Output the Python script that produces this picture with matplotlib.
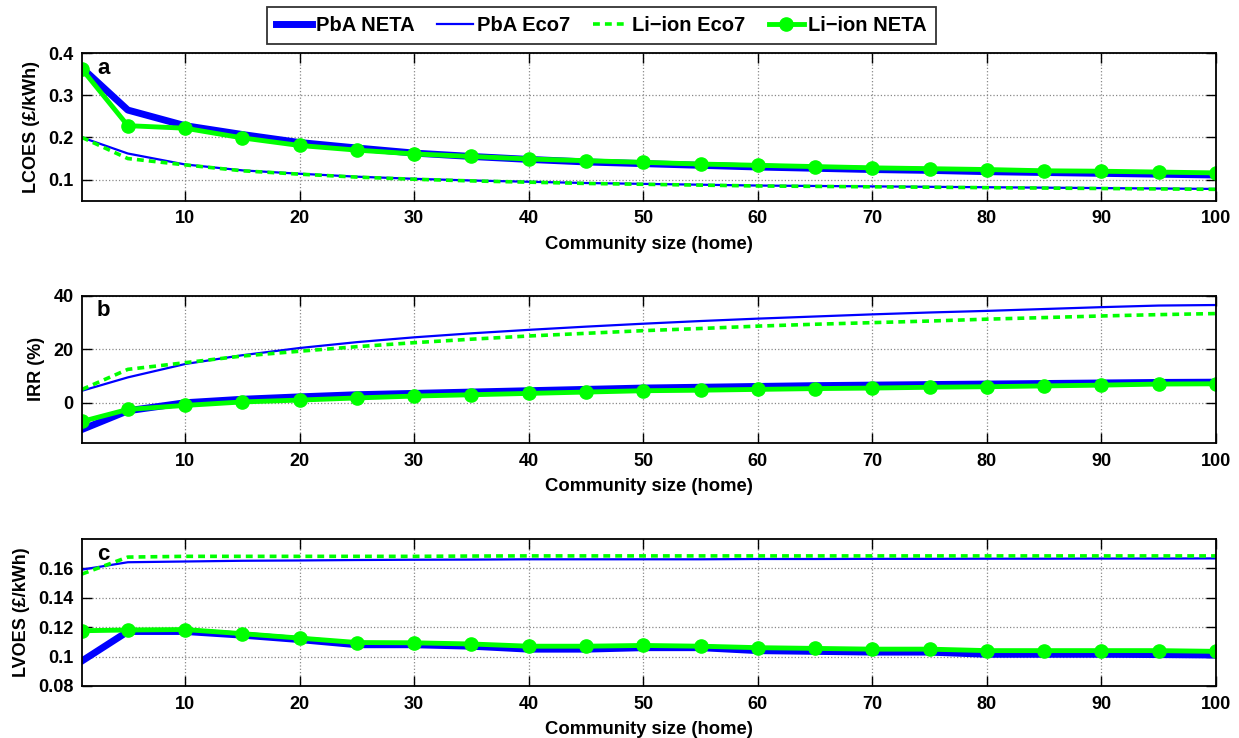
import numpy as np
import matplotlib
matplotlib.use('Agg')
import matplotlib.pyplot as plt
from matplotlib.ticker import FuncFormatter

plt.rcParams['font.family'] = ['Liberation Sans', 'DejaVu Sans']
plt.rcParams['font.weight'] = 'bold'

# community size (homes)
size = [1, 5, 10, 15, 20, 25, 30, 35, 40, 45, 50, 55, 60, 65, 70, 75, 80, 85, 90, 95, 100]

# (a) LCOES (GBP/kWh)
lcoes_pba_neta = [0.365, 0.265, 0.228, 0.207, 0.188, 0.175, 0.163, 0.155, 0.148, 0.142, 0.138,
                  0.134, 0.130, 0.127, 0.124, 0.122, 0.119, 0.117, 0.115, 0.113, 0.111]
lcoes_pba_eco7 = [0.200, 0.162, 0.136, 0.122, 0.114, 0.107, 0.102, 0.098, 0.095, 0.092, 0.090,
                  0.088, 0.086, 0.085, 0.084, 0.083, 0.082, 0.081, 0.080, 0.079, 0.078]
lcoes_li_eco7 = [0.200, 0.150, 0.135, 0.121, 0.113, 0.106, 0.101, 0.097, 0.094, 0.091, 0.089,
                 0.087, 0.085, 0.084, 0.083, 0.082, 0.081, 0.080, 0.079, 0.078, 0.077]
lcoes_li_neta = [0.362, 0.228, 0.222, 0.199, 0.181, 0.170, 0.161, 0.155, 0.149, 0.145, 0.141,
                 0.137, 0.134, 0.131, 0.128, 0.126, 0.124, 0.121, 0.120, 0.118, 0.116]

# (b) IRR (%)
irr_pba_neta = [-10.0, -3.0, 0.0, 1.3, 2.2, 3.0, 3.5, 4.0, 4.5, 5.0, 5.5,
                5.8, 6.1, 6.4, 6.6, 6.8, 7.0, 7.2, 7.4, 7.6, 7.7]
irr_pba_eco7 = [4.5, 9.5, 14.5, 17.8, 20.5, 22.7, 24.5, 26.0, 27.3, 28.5, 29.6,
                30.6, 31.5, 32.3, 33.1, 33.8, 34.4, 35.1, 35.8, 36.4, 36.6]
irr_li_eco7 = [5.0, 12.5, 15.0, 17.5, 19.3, 21.0, 22.5, 23.8, 25.0, 26.0, 27.0,
               27.8, 28.7, 29.4, 30.0, 30.6, 31.3, 31.9, 32.5, 33.0, 33.4]
irr_li_neta = [-7.0, -2.5, -1.0, 0.3, 1.0, 1.8, 2.5, 3.0, 3.5, 4.0, 4.5,
               4.7, 5.0, 5.3, 5.5, 5.8, 6.0, 6.3, 6.6, 7.0, 7.1]

# (c) LVOES (GBP/kWh)
lvoes_pba_neta = [0.097, 0.117, 0.117, 0.1145, 0.1115, 0.108, 0.108, 0.107, 0.105, 0.105, 0.106,
                  0.106, 0.104, 0.1035, 0.103, 0.103, 0.1015, 0.1015, 0.1015, 0.1013, 0.101]
lvoes_pba_eco7 = [0.159, 0.164, 0.1645, 0.165, 0.1652, 0.1655, 0.1657, 0.1658, 0.166, 0.166, 0.166,
                  0.166, 0.1662, 0.1662, 0.1663, 0.1663, 0.1664, 0.1664, 0.1665, 0.1665, 0.1666]
lvoes_li_eco7 = [0.156, 0.1675, 0.168, 0.168, 0.168, 0.168, 0.168, 0.1682, 0.1683, 0.1683, 0.1683,
                 0.1683, 0.1683, 0.1683, 0.1683, 0.1683, 0.1683, 0.1683, 0.1683, 0.1683, 0.1683]
lvoes_li_neta = [0.1175, 0.118, 0.1183, 0.1155, 0.1125, 0.1095, 0.1093, 0.1085, 0.107, 0.107, 0.1075,
                 0.107, 0.106, 0.1055, 0.105, 0.105, 0.104, 0.104, 0.104, 0.104, 0.1035]

labels = ['PbA NETA', 'PbA Eco7', 'Li\u2212ion Eco7', 'Li\u2212ion NETA']
xticks = [10, 20, 30, 40, 50, 60, 70, 80, 90, 100]

panels = [
    ('a', 'LCOES (\u00a3/kWh)', (0.05, 0.4), [0.1, 0.2, 0.3, 0.4],
     [lcoes_pba_neta, lcoes_pba_eco7, lcoes_li_eco7, lcoes_li_neta], [0.728, 0.200]),
    ('b', 'IRR (%)', (-15, 40), [0, 20, 40],
     [irr_pba_neta, irr_pba_eco7, irr_li_eco7, irr_li_neta], [0.400, 0.199]),
    ('c', 'LVOES (\u00a3/kWh)', (0.08, 0.1797), [0.08, 0.10, 0.12, 0.14, 0.16],
     [lvoes_pba_neta, lvoes_pba_eco7, lvoes_li_eco7, lvoes_li_neta], [0.0705, 0.199]),
]

fig = plt.figure(figsize=(12.39, 7.38), dpi=100)
handles = None
for tag, ylab, ylim, yticks, series, (bot, h) in panels:
    ax = fig.add_axes([0.0662, bot, 0.9152, h])
    l1, = ax.plot(size, series[0], color='#0000ff', lw=5)
    l2, = ax.plot(size, series[1], color='#0000ff', lw=1.6)
    l3, = ax.plot(size, series[2], color='#00ff00', lw=2.6, ls=(0, (1.9, 1.4)))
    l4, = ax.plot(size, series[3], color='#00ff00', lw=3.5, marker='o', ms=9.5)
    handles = [l1, l2, l3, l4]
    ax.set_xlim(1, 100)
    ax.set_ylim(*ylim)
    ax.set_xticks(xticks)
    ax.set_yticks(yticks)
    ax.yaxis.set_major_formatter(FuncFormatter(lambda v, p: '%g' % round(v, 4)))
    ax.grid(True, ls=':', color='#888888', lw=0.9)
    ax.tick_params(direction='in', top=True, right=True, length=7.5, width=1,
                   labelsize=13)
    ax.tick_params(axis='y', pad=6)
    ax.tick_params(axis='x', pad=7)
    for lab in ax.get_xticklabels() + ax.get_yticklabels():
        lab.set_fontweight('bold')
    for s in ax.spines.values():
        s.set_linewidth(1.3)
    ax.set_xlabel('Community size (home)', fontsize=13.3, fontweight='bold', labelpad=6)
    ax.set_ylabel(ylab, fontsize=13, fontweight='bold', labelpad=6)
    ax.text(2.3, ylim[1] - (ylim[1] - ylim[0]) * 0.03, tag, fontsize=16,
            fontweight='bold', va='top', ha='left')

leg = fig.legend(handles, labels, loc='center', bbox_to_anchor=(0.4855, 0.9654), ncol=4,
                 frameon=True, fancybox=False, edgecolor='black',
                 handlelength=1.75, handletextpad=0.2, columnspacing=1.15,
                 borderpad=0.45, borderaxespad=0.0,
                 prop={'weight': 'bold', 'size': 14.5})
leg.get_frame().set_linewidth(1.3)

fig.savefig('out.png', dpi=100)
